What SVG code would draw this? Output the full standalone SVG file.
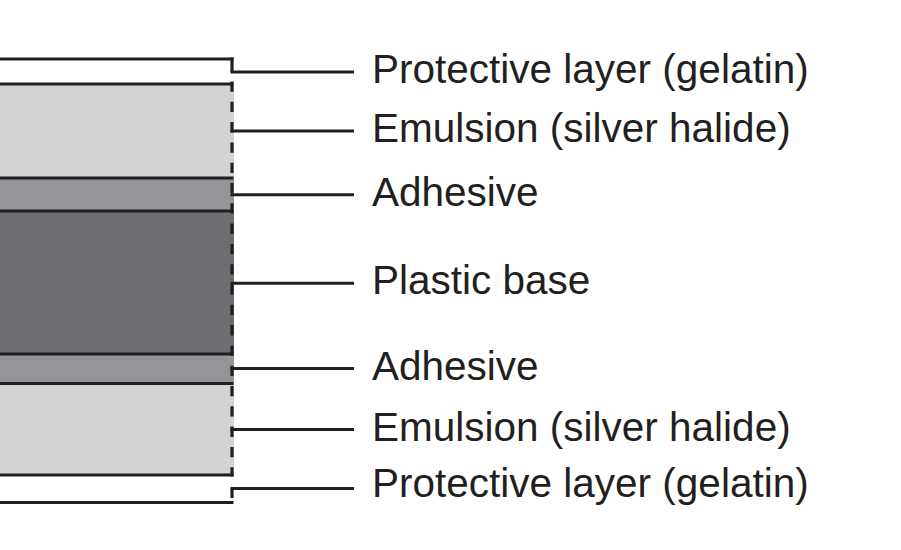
<svg xmlns="http://www.w3.org/2000/svg" width="901" height="550" viewBox="0 0 901 550">
<style>
.ln{stroke:#231f20;stroke-width:3.2;fill:none}
.ld{stroke:#231f20;stroke-width:3;fill:none}
.lbl{font-family:"Liberation Sans",Arial,sans-serif;font-size:40.5px;fill:#231f20}
</style>
<rect width="901" height="550" fill="#ffffff"/>
<g id="layers">
<g id="emulsion-top"><rect x="0" y="84" width="234" height="94" fill="#d1d3d4"/></g>
<g id="adhesive-top"><rect x="0" y="178" width="234" height="33" fill="#939598"/></g>
<g id="plastic-base"><rect x="0" y="211" width="234" height="143" fill="#6d6e71"/></g>
<g id="adhesive-bottom"><rect x="0" y="354" width="234" height="29.5" fill="#939598"/></g>
<g id="emulsion-bottom"><rect x="0" y="383.5" width="234" height="91.5" fill="#d1d3d4"/></g>
<g id="borders">
<line class="ln" x1="0" y1="59" x2="233.5" y2="59"/>
<line class="ln" x1="0" y1="84" x2="233.5" y2="84"/>
<line class="ln" x1="0" y1="178" x2="233.5" y2="178"/>
<line class="ln" x1="0" y1="211" x2="233.5" y2="211"/>
<line class="ln" x1="0" y1="354" x2="233.5" y2="354"/>
<line class="ln" x1="0" y1="383.5" x2="233.5" y2="383.5"/>
<line class="ln" x1="0" y1="475" x2="233.5" y2="475"/>
<line class="ln" x1="0" y1="502.5" x2="233.5" y2="502.5"/>
<line class="ln" x1="232" y1="57.5" x2="232" y2="72"/>
<line class="ln" x1="232" y1="488.5" x2="232" y2="498"/>
<line class="ln" x1="232" y1="81.5" x2="232" y2="476.5" stroke-width="3.4" stroke-dasharray="10.3 10"/>
</g>
</g>
<g id="connectors">
<line class="ld" x1="230.5" y1="72" x2="354" y2="72"/>
<line class="ld" x1="230.5" y1="131" x2="354" y2="131"/>
<line class="ld" x1="230.5" y1="194.7" x2="354" y2="194.7"/>
<line class="ld" x1="230.5" y1="283.3" x2="354" y2="283.3"/>
<line class="ld" x1="230.5" y1="368.5" x2="354" y2="368.5"/>
<line class="ld" x1="230.5" y1="429.5" x2="354" y2="429.5"/>
<line class="ld" x1="230.5" y1="488.5" x2="354" y2="488.5"/>
</g>
<g id="labels">
<g id="label-protective-top"><text class="lbl" x="372" y="83.3">Protective layer (gelatin)</text></g>
<g id="label-emulsion-top"><text class="lbl" x="372" y="142">Emulsion (silver halide)</text></g>
<g id="label-adhesive-top"><text class="lbl" x="372" y="206">Adhesive</text></g>
<g id="label-plastic-base"><text class="lbl" x="372" y="293.5">Plastic base</text></g>
<g id="label-adhesive-bottom"><text class="lbl" x="372" y="379.5">Adhesive</text></g>
<g id="label-emulsion-bottom"><text class="lbl" x="372" y="440.7">Emulsion (silver halide)</text></g>
<g id="label-protective-bottom"><text class="lbl" x="372" y="496.7">Protective layer (gelatin)</text></g>
</g>
</svg>
